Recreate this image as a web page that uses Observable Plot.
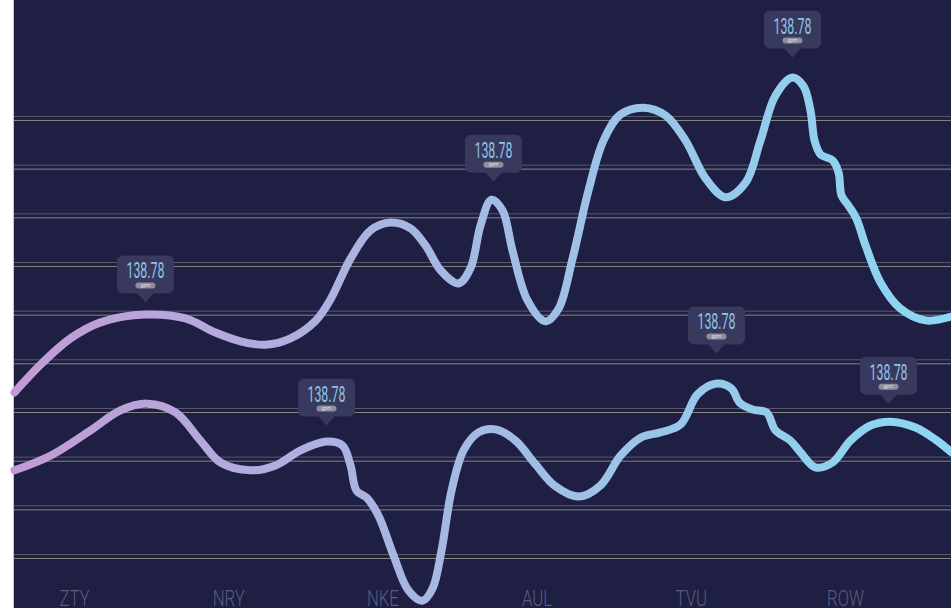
<!DOCTYPE html>
<html><head><meta charset="utf-8">
<script src="https://cdn.jsdelivr.net/npm/d3@7"></script>
<script src="https://cdn.jsdelivr.net/npm/@observablehq/plot@0.6"></script>
<style>
html,body{margin:0;padding:0;background:#fff;overflow:hidden;width:951px;height:608px;}
#chart{position:absolute;left:14px;top:0;width:937px;height:608px;box-shadow:-1px 0 0 #c4c4cc;}
</style></head><body><div id="chart"></div>
<script>
// Category ticks (x positions 0..5)
const categories = ["ZTY", "NRY", "NKE", "AUL", "TVU", "ROW"];

// Upper series (x in category units, y in value units)
const topX = [-0.389, -0.220, -0.026, 0.169, 0.460, 0.720, 0.914, 1.077, 1.239, 1.401, 1.563, 1.660, 1.790, 1.920, 2.049, 2.179, 2.276, 2.374, 2.490, 2.568, 2.633, 2.704, 2.776, 2.840, 2.938, 3.054, 3.139, 3.230, 3.333, 3.431, 3.541, 3.690, 3.833, 3.962, 4.092, 4.222, 4.352, 4.449, 4.546, 4.656, 4.728, 4.773, 4.799, 4.838, 4.916, 4.955, 4.974, 5.019, 5.071, 5.130, 5.227, 5.357, 5.519, 5.687];
const topY = [33.3, 39.0, 44.4, 47.7, 49.3, 48.5, 45.6, 43.8, 43.1, 44.4, 48.0, 52.4, 60.8, 66.6, 68.2, 67.0, 63.5, 58.4, 55.7, 58.8, 67.6, 72.9, 70.7, 62.5, 52.2, 47.9, 50.5, 60.8, 74.8, 85.1, 90.4, 91.8, 90.2, 85.1, 77.3, 73.4, 76.4, 85.1, 94.3, 98.0, 96.2, 91.2, 85.1, 82.2, 81.0, 78.5, 73.8, 71.7, 69.0, 63.5, 55.9, 50.5, 48.1, 48.9];

// Lower series
const bottomX = [-0.389, -0.156, 0.104, 0.298, 0.473, 0.655, 0.817, 0.947, 1.141, 1.304, 1.466, 1.634, 1.738, 1.790, 1.829, 1.894, 1.971, 2.069, 2.166, 2.257, 2.322, 2.380, 2.445, 2.523, 2.620, 2.730, 2.860, 2.990, 3.119, 3.268, 3.411, 3.541, 3.671, 3.800, 3.930, 4.040, 4.157, 4.261, 4.313, 4.397, 4.488, 4.546, 4.643, 4.708, 4.805, 4.916, 5.032, 5.162, 5.292, 5.454, 5.584, 5.687];
const bottomY = [17.3, 20.3, 25.5, 29.6, 31.0, 29.2, 23.4, 18.9, 17.3, 18.3, 21.4, 23.2, 22.4, 18.3, 13.1, 11.7, 8.0, -0.2, -7.4, -9.5, -7.0, 0.8, 13.1, 21.4, 25.1, 25.7, 23.4, 18.5, 14.0, 11.9, 14.2, 20.3, 24.0, 25.1, 26.7, 32.9, 35.1, 34.1, 31.2, 29.8, 29.2, 25.5, 23.4, 21.0, 17.9, 18.9, 23.4, 26.5, 27.3, 26.1, 23.6, 21.0];

// Callouts
const tipX = [0.460, 1.634, 2.717, 4.163, 4.656, 5.279];
const tipY = [51.8, 26.5, 76.6, 41.3, 102.1, 31.0];
const tipValues = ["138.78", "138.78", "138.78", "138.78", "138.78", "138.78"];
const tipUnit = "gpm";

// Gridline values
const gridValues = [0, 10, 20, 30, 40, 50, 60, 70, 80, 90];

const topSeries = topX.map((x, i) => ({x, y: topY[i]}));
const bottomSeries = bottomX.map((x, i) => ({x, y: bottomY[i]}));
const tips = tipX.map((x, i) => ({x, y: tipY[i], value: tipValues[i], unit: tipUnit}));
const catData = categories.map((name, i) => ({name, i}));

function roundRect(ctx, x0, y0, x1, y1, r) {
  ctx.moveTo(x0 + r, y0);
  ctx.lineTo(x1 - r, y0);
  ctx.arcTo(x1, y0, x1, y0 + r, r);
  ctx.lineTo(x1, y1 - r);
  ctx.arcTo(x1, y1, x1 - r, y1, r);
  ctx.lineTo(x0 + r, y1);
  ctx.arcTo(x0, y1, x0, y1 - r, r);
  ctx.lineTo(x0, y0 + r);
  ctx.arcTo(x0, y0, x0 + r, y0, r);
  ctx.closePath();
}
const tipBox = {
  draw(ctx) {
    const w = 28.5, t = -47, b = -9, r = 6, p = 8;
    ctx.moveTo(-w + r, t);
    ctx.lineTo(w - r, t);
    ctx.arcTo(w, t, w, t + r, r);
    ctx.lineTo(w, b - r);
    ctx.arcTo(w, b, w - r, b, r);
    ctx.lineTo(p, b);
    ctx.lineTo(0, 0);
    ctx.lineTo(-p, b);
    ctx.lineTo(-w + r, b);
    ctx.arcTo(-w, b, -w, b - r, r);
    ctx.lineTo(-w, t + r);
    ctx.arcTo(-w, t, -w + r, t, r);
    ctx.closePath();
  }
};
const pill = { draw(ctx) { roundRect(ctx, -10, -20, 10, -14, 3); } };

const plot = Plot.plot({
  width: 937,
  height: 608,
  margin: 0,
  x: {domain: [-0.3891, 5.6874], axis: null},
  y: {domain: [-11.095, 113.83], axis: null},
  style: {background: "#1e1f42", fontFamily: "Roboto, 'Liberation Sans', sans-serif", overflow: "visible"},
  marks: [
    Plot.ruleY(gridValues, {stroke: "#58586f", strokeWidth: 1}),
    Plot.ruleY(gridValues, {stroke: "#86867f", strokeWidth: 1, dy: 4}),
    Plot.line(topSeries, {x: "x", y: "y", curve: "catmull-rom", stroke: "url(#lineGrad)", strokeWidth: 8, strokeLinecap: "round", strokeLinejoin: "round"}),
    Plot.line(bottomSeries, {x: "x", y: "y", curve: "catmull-rom", stroke: "url(#lineGrad)", strokeWidth: 8, strokeLinecap: "round", strokeLinejoin: "round"}),
    Plot.dot(tips, {x: "x", y: "y", symbol: tipBox, fill: "#39395e", stroke: "none"}),
    Plot.text(tips, {x: "x", y: "y", text: "value", dy: -24, lineAnchor: "bottom", fontSize: 21.5, fill: "#8fc4e8"}),
    Plot.dot(tips, {x: "x", y: "y", symbol: pill, fill: "#8d8d9c", stroke: "none"}),
    Plot.text(tips, {x: "x", y: "y", text: "unit", dy: -15.2, lineAnchor: "bottom", fontSize: 5.5, fill: "#dedee6"}),
    Plot.text(catData, {x: "i", text: "name", frameAnchor: "bottom", lineAnchor: "top", dy: -18, fontSize: 22, fontWeight: 300, fill: "#5a5d80"})
  ]
});

const container = document.getElementById("chart");
container.appendChild(plot);
const svg = d3.select(plot);
const grad = svg.insert("defs", ":first-child").append("linearGradient")
  .attr("id", "lineGrad").attr("gradientUnits", "userSpaceOnUse")
  .attr("x1", 0).attr("x2", 937).attr("y1", 0).attr("y2", 0);
grad.append("stop").attr("offset", "0%").attr("stop-color", "#c29bd6");
grad.append("stop").attr("offset", "40%").attr("stop-color", "#a8b5e2");
grad.append("stop").attr("offset", "100%").attr("stop-color", "#8bd7f3");

svg.selectAll("text").each(function() {
  const t = this.textContent;
  if (t === "138.78") {
    this.setAttribute("textLength", 38);
    this.setAttribute("lengthAdjust", "spacingAndGlyphs");
  } else if (categories.includes(t)) {
    const w = this.getComputedTextLength();
    this.setAttribute("textLength", w * 0.76);
    this.setAttribute("lengthAdjust", "spacingAndGlyphs");
  } else if (t === tipUnit) {
    const w = this.getComputedTextLength();
    this.setAttribute("textLength", w * 0.9);
    this.setAttribute("lengthAdjust", "spacingAndGlyphs");
  }
});
</script></body></html>
